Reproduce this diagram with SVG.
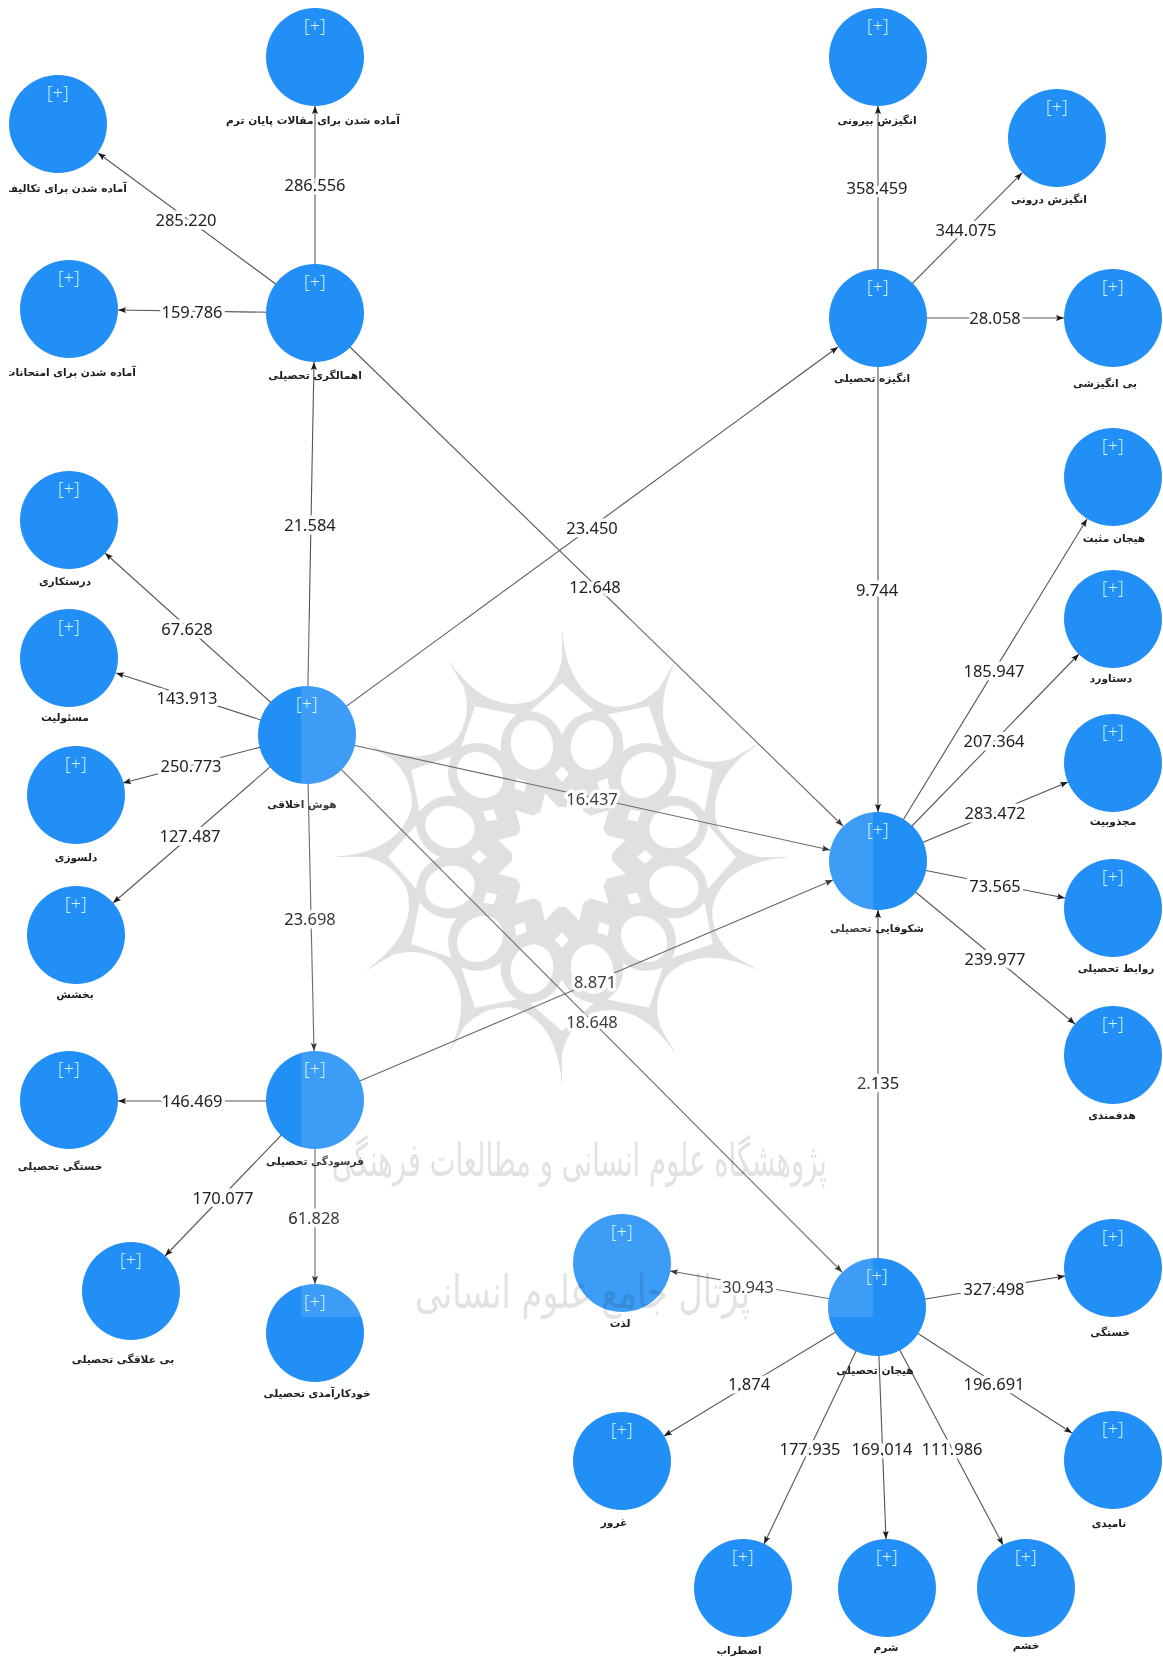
<svg xmlns="http://www.w3.org/2000/svg" xmlns:xlink="http://www.w3.org/1999/xlink" width="1163" height="1657" viewBox="0 0 1163 1657">
<style>
.e{stroke:#555;stroke-width:1.1;fill:none;marker-end:url(#a)}
.v{font:16.5px "Noto Sans","Open Sans",sans-serif;fill:#222;text-anchor:middle;dominant-baseline:central;paint-order:stroke;stroke:#fff;stroke-width:7px;stroke-linejoin:round}
.c{fill:#218ff5}
.p{font:18px "Open Sans","Noto Sans",sans-serif;font-weight:300;fill:#d2f5f2;text-anchor:middle}
.l{font:bold 10.6px "DejaVu Sans",sans-serif;fill:#1c1c1c;text-anchor:middle;dominant-baseline:central}
.r{fill:#dcdcdc}.h{fill:#fff}
.w{font:46px "DejaVu Sans",sans-serif;fill:#e2e2e2;text-anchor:start;mix-blend-mode:multiply}
</style>
<defs>
<marker id="a" markerUnits="userSpaceOnUse" markerWidth="9" markerHeight="8" refX="8" refY="4" orient="auto"><path d="M0,1L8,4L0,7L1.5,4Z" fill="#1a1a1a"/></marker>
<g id="s">
<path class="r" d="M0,0L0,-227Q6,-160 52,-150Q95,-150 113.5,-196.6Z"/>
</g>
<g id="t">
<ellipse class="h" cx="0" cy="-116" rx="21" ry="25" transform="rotate(15)"/>
<path class="h" d="M0,-174L32,-146Q9,-143 0,-122Q-9,-143 -32,-146Z"/>
<path class="h" d="M0,-91L7,-83L0,-75L-7,-83Z"/>
<path class="h" d="M-11,-46L0,-66L11,-46Z" transform="rotate(15)"/>
</g>
<clipPath id="cl"><rect x="9" y="170" width="200" height="220"/></clipPath>
</defs>
<rect width="1163" height="1657" fill="#fff"/>
<g id="watermark-rosette" transform="translate(562,857)">
<use href="#s"/><use href="#s" transform="rotate(30)"/><use href="#s" transform="rotate(60)"/><use href="#s" transform="rotate(90)"/><use href="#s" transform="rotate(120)"/><use href="#s" transform="rotate(150)"/><use href="#s" transform="rotate(180)"/><use href="#s" transform="rotate(210)"/><use href="#s" transform="rotate(240)"/><use href="#s" transform="rotate(270)"/><use href="#s" transform="rotate(300)"/><use href="#s" transform="rotate(330)"/>
<circle class="h" r="50"/>
<use href="#t"/><use href="#t" transform="rotate(30)"/><use href="#t" transform="rotate(60)"/><use href="#t" transform="rotate(90)"/><use href="#t" transform="rotate(120)"/><use href="#t" transform="rotate(150)"/><use href="#t" transform="rotate(180)"/><use href="#t" transform="rotate(210)"/><use href="#t" transform="rotate(240)"/><use href="#t" transform="rotate(270)"/><use href="#t" transform="rotate(300)"/><use href="#t" transform="rotate(330)"/>
</g>
<g id="connectors">
<path class="e" d="M315,313L315,106"/>
<path class="e" d="M315,313L98,153"/>
<path class="e" d="M315,313L118,310"/>
<path class="e" d="M315,313L843,826"/>
<path class="e" d="M307,735L314,362"/>
<path class="e" d="M307,735L838,347"/>
<path class="e" d="M307,735L105,553"/>
<path class="e" d="M307,735L116,673"/>
<path class="e" d="M307,735L123,783"/>
<path class="e" d="M307,735L113,903"/>
<path class="e" d="M307,735L830,850"/>
<path class="e" d="M307,735L314,1051"/>
<path class="e" d="M307,735L842,1272"/>
<path class="e" d="M315,1100L833,880"/>
<path class="e" d="M315,1101L118,1101"/>
<path class="e" d="M315,1100L165,1256"/>
<path class="e" d="M315,1100L315,1284"/>
<path class="e" d="M878,318L878,106"/>
<path class="e" d="M878,318L1022,173"/>
<path class="e" d="M878,318L1064,318"/>
<path class="e" d="M878,318L878,812"/>
<path class="e" d="M878,1307L878,910"/>
<path class="e" d="M878,861L1087,519"/>
<path class="e" d="M878,861L1079,654"/>
<path class="e" d="M878,861L1068,782"/>
<path class="e" d="M878,861L1065,898"/>
<path class="e" d="M878,861L1075,1024"/>
<path class="e" d="M877,1307L670,1271"/>
<path class="e" d="M877,1307L664,1436"/>
<path class="e" d="M877,1307L764,1544"/>
<path class="e" d="M877,1307L886,1539"/>
<path class="e" d="M877,1307L1003,1545"/>
<path class="e" d="M877,1307L1065,1276"/>
<path class="e" d="M877,1307L1072,1433"/>
<text class="v" x="315" y="184">286.556</text>
<text class="v" x="186" y="219">285.220</text>
<text class="v" x="192" y="311">159.786</text>
<text class="v" x="595" y="586">12.648</text>
<text class="v" x="310" y="524">21.584</text>
<text class="v" x="592" y="527">23.450</text>
<text class="v" x="187" y="628">67.628</text>
<text class="v" x="187" y="697">143.913</text>
<text class="v" x="191" y="765">250.773</text>
<text class="v" x="190" y="835">127.487</text>
<text class="v" x="592" y="798">16.437</text>
<text class="v" x="310" y="918">23.698</text>
<text class="v" x="592" y="1021">18.648</text>
<text class="v" x="595" y="981">8.871</text>
<text class="v" x="192" y="1100">146.469</text>
<text class="v" x="223" y="1197">170.077</text>
<text class="v" x="314" y="1217">61.828</text>
<text class="v" x="877" y="187">358.459</text>
<text class="v" x="966" y="229">344.075</text>
<text class="v" x="995" y="317">28.058</text>
<text class="v" x="877" y="589">9.744</text>
<text class="v" x="878" y="1082">2.135</text>
<text class="v" x="994" y="670">185.947</text>
<text class="v" x="994" y="740">207.364</text>
<text class="v" x="995" y="812">283.472</text>
<text class="v" x="995" y="885">73.565</text>
<text class="v" x="995" y="958">239.977</text>
<text class="v" x="748" y="1286">30.943</text>
<text class="v" x="749" y="1383">1.874</text>
<text class="v" x="810" y="1448">177.935</text>
<text class="v" x="882" y="1448">169.014</text>
<text class="v" x="952" y="1448">111.986</text>
<text class="v" x="994" y="1288">327.498</text>
<text class="v" x="994" y="1383">196.691</text>
</g>
<g id="n01"><circle class="c" cx="315" cy="57" r="49"/><text class="p" x="315" y="32">[+]</text><text class="l" x="313" y="120">آماده شدن برای مقالات پایان ترم</text></g>
<g id="n02"><circle class="c" cx="58" cy="124" r="49"/><text class="p" x="58" y="99">[+]</text><text class="l" x="127" y="188" style="text-anchor:end" clip-path="url(#cl)">آماده شدن برای تکالیف</text></g>
<g id="n03"><circle class="c" cx="69" cy="309" r="49"/><text class="p" x="69" y="284">[+]</text><text class="l" x="136" y="372" style="text-anchor:end" clip-path="url(#cl)">آماده شدن برای امتحانات</text></g>
<g id="n04"><circle class="c" cx="315" cy="313" r="49"/><text class="p" x="315" y="288">[+]</text><text class="l" x="315" y="375">اهمالگری تحصیلی</text></g>
<g id="n05"><circle class="c" cx="878" cy="57" r="49"/><text class="p" x="878" y="32">[+]</text><text class="l" x="877" y="120">انگیزش بیرونی</text></g>
<g id="n06"><circle class="c" cx="1057" cy="138" r="49"/><text class="p" x="1057" y="113">[+]</text><text class="l" x="1049" y="199">انگیزش درونی</text></g>
<g id="n07"><circle class="c" cx="878" cy="318" r="49"/><text class="p" x="878" y="293">[+]</text><text class="l" x="872" y="378">انگیزه تحصیلی</text></g>
<g id="n08"><circle class="c" cx="1113" cy="318" r="49"/><text class="p" x="1113" y="293">[+]</text><text class="l" x="1105" y="383">بی انگیزشی</text></g>
<g id="n09"><circle class="c" cx="1113" cy="477" r="49"/><text class="p" x="1113" y="452">[+]</text><text class="l" x="1114" y="538">هیجان مثبت</text></g>
<g id="n10"><circle class="c" cx="1113" cy="619" r="49"/><text class="p" x="1113" y="594">[+]</text><text class="l" x="1111" y="678">دستاورد</text></g>
<g id="n11"><circle class="c" cx="1113" cy="763" r="49"/><text class="p" x="1113" y="738">[+]</text><text class="l" x="1113" y="821">مجذوبیت</text></g>
<g id="n12"><circle class="c" cx="1113" cy="908" r="49"/><text class="p" x="1113" y="883">[+]</text><text class="l" x="1116" y="968">روابط تحصیلی</text></g>
<g id="n13"><circle class="c" cx="1113" cy="1055" r="49"/><text class="p" x="1113" y="1030">[+]</text><text class="l" x="1112" y="1115">هدفمندی</text></g>
<g id="n14"><circle class="c" cx="878" cy="861" r="49"/><text class="p" x="878" y="836">[+]</text><text class="l" x="877" y="928">شکوفایی تحصیلی</text></g>
<g id="n15"><circle class="c" cx="69" cy="520" r="49"/><text class="p" x="69" y="495">[+]</text><text class="l" x="65" y="581">درستکاری</text></g>
<g id="n16"><circle class="c" cx="69" cy="658" r="49"/><text class="p" x="69" y="633">[+]</text><text class="l" x="65" y="717">مسئولیت</text></g>
<g id="n17"><circle class="c" cx="76" cy="795" r="49"/><text class="p" x="76" y="770">[+]</text><text class="l" x="76" y="857">دلسوزی</text></g>
<g id="n18"><circle class="c" cx="76" cy="935" r="49"/><text class="p" x="76" y="910">[+]</text><text class="l" x="75" y="994">بخشش</text></g>
<g id="n19"><circle class="c" cx="307" cy="735" r="49"/><text class="p" x="307" y="710">[+]</text><text class="l" x="302" y="804">هوش اخلاقی</text></g>
<g id="n20"><circle class="c" cx="315" cy="1100" r="49"/><text class="p" x="315" y="1075">[+]</text><text class="l" x="315" y="1161">فرسودگی تحصیلی</text></g>
<g id="n21"><circle class="c" cx="69" cy="1100" r="49"/><text class="p" x="69" y="1075">[+]</text><text class="l" x="60" y="1166">خستگی تحصیلی</text></g>
<g id="n22"><circle class="c" cx="131" cy="1291" r="49"/><text class="p" x="131" y="1266">[+]</text><text class="l" x="123" y="1359">بی علاقگی تحصیلی</text></g>
<g id="n23"><circle class="c" cx="315" cy="1333" r="49"/><text class="p" x="315" y="1308">[+]</text><text class="l" x="317" y="1393">خودکارآمدی تحصیلی</text></g>
<g id="n24"><circle class="c" cx="622" cy="1263" r="49"/><text class="p" x="622" y="1238">[+]</text><text class="l" x="620" y="1323">لذت</text></g>
<g id="n25"><circle class="c" cx="877" cy="1307" r="49"/><text class="p" x="877" y="1282">[+]</text><text class="l" x="875" y="1370">هیجان تحصیلی</text></g>
<g id="n26"><circle class="c" cx="622" cy="1461" r="49"/><text class="p" x="622" y="1436">[+]</text><text class="l" x="614" y="1522">غرور</text></g>
<g id="n27"><circle class="c" cx="743" cy="1588" r="49"/><text class="p" x="743" y="1563">[+]</text><text class="l" x="739" y="1650">اضطراب</text></g>
<g id="n28"><circle class="c" cx="887" cy="1588" r="49"/><text class="p" x="887" y="1563">[+]</text><text class="l" x="886" y="1647">شرم</text></g>
<g id="n29"><circle class="c" cx="1026" cy="1588" r="49"/><text class="p" x="1026" y="1563">[+]</text><text class="l" x="1026" y="1645">خشم</text></g>
<g id="n30"><circle class="c" cx="1113" cy="1268" r="49"/><text class="p" x="1113" y="1243">[+]</text><text class="l" x="1110" y="1332">خستگی</text></g>
<g id="n31"><circle class="c" cx="1113" cy="1460" r="49"/><text class="p" x="1113" y="1435">[+]</text><text class="l" x="1109" y="1523">نامیدی</text></g>
<g id="watermark">
<rect x="301" y="620" width="572" height="697" fill="#fff" fill-opacity=".13"/>
<text class="w" x="332" y="1176" textLength="495" lengthAdjust="spacingAndGlyphs">پژوهشگاه علوم انسانی و مطالعات فرهنگی</text>
<text class="w" x="415" y="1308" textLength="335" lengthAdjust="spacingAndGlyphs">پرتال جامع علوم انسانی</text>
</g>
</svg>
